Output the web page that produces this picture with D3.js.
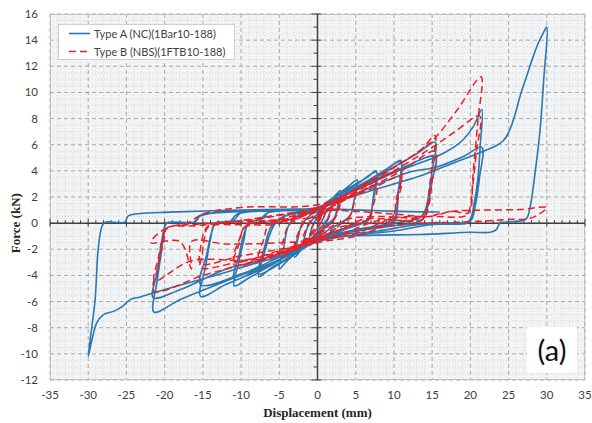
<!DOCTYPE html>
<html>
<head>
<meta charset="utf-8">
<script src="https://cdn.jsdelivr.net/npm/d3@7"></script>
<style>
  body { margin: 0; background: #fff; }
  svg { display: block; }
</style>
</head>
<body>
<svg id="chart" width="592" height="423"></svg>
<script>
// ---- data (displacement mm, force kN) ----
var xTicks = [-35, -30, -25, -20, -15, -10, -5, 0, 5, 10, 15, 20, 25, 30, 35];
var yTicks = [-12, -10, -8, -6, -4, -2, 0, 2, 4, 6, 8, 10, 12, 14, 16];
var seriesNames = ["Type A (NC)(1Bar10-188)", "Type B (NBS)(1FTB10-188)"];

// Type A (blue, solid) - hysteresis path
var typeA = [
  [0,0],[0.4,0.5],[1,0.9],[0.8,0.4],[0.4,0.0],[0,-0.4],[-0.5,-0.7],[-1,-1.0],[-0.8,-0.5],[-0.5,0.0],[0,0.4],
  [0.6,0.9],[1.3,1.4],[2,1.9],[1.7,1.0],[1.3,0.3],[0.5,-0.3],[0,-0.7],[-1,-1.3],[-2,-2.0],[-1.7,-1.1],[-1.3,-0.3],[-0.5,0.4],[0,0.7],
  [1,1.3],[2,1.9],[3,2.5],[2.6,1.2],[2.2,0.4],[1,-0.2],[0,-0.9],[-1.5,-1.6],[-3,-2.6],[-2.6,-1.3],[-2.1,-0.2],[-1,0.6],[0,0.9],
  [1,1.3],[2,1.8],[3,2.3],[2.6,1.0],[2.1,0.3],[1,-0.3],[0,-1.0],[-1.5,-1.6],[-3,-2.4],[-2.6,-1.1],[-2,-0.1],[-1,0.6],[0,0.9],
  [1,1.4],[2.5,2.1],[4,2.8],[5.2,3.3],[4.8,1.8],[4.3,0.6],[3,0.0],[1.5,-0.5],[0,-1.1],[-2,-1.9],[-4,-2.9],[-5,-3.5],[-4.4,-1.8],[-3.8,-0.2],[-2.5,0.6],[0,1.0],
  [1.2,1.6],[3,2.3],[5,3.0],[6.5,3.5],[7.7,4.0],[7.3,2.0],[7.0,0.8],[6.5,0.2],[4,-0.3],[2,-0.7],[0,-1.2],[-2,-1.9],[-4,-2.7],[-6,-3.4],[-7.7,-4.1],[-7.0,-2.4],[-6.2,-0.8],[-5.5,0.0],[-4,0.6],[-2,0.9],[0,1.1],
  [1.2,1.5],[3,2.2],[5,2.9],[7.7,3.9],[7.2,1.5],[6.8,0.3],[4,-0.4],[0,-1.3],[-3,-2.4],[-5.5,-3.3],[-7.7,-3.9],[-7.0,-2.0],[-6.0,-0.2],[-4.5,0.5],[0,1.0],
  [1.5,1.5],[4,2.4],[7,3.4],[9.5,4.3],[10.9,4.8],[10.6,2.5],[10.4,0.8],[10.1,0.15],[8,-0.2],[5,-0.5],[2,-0.9],[0,-1.3],[-3,-2.2],[-6,-3.2],[-9,-4.2],[-10.9,-4.8],[-10.3,-3.0],[-9.6,-1.2],[-9.05,0.0],[-7.5,0.3],[-6.5,0.8],[-3,1.0],[0,1.2],
  [2,1.6],[5,2.6],[8,3.7],[10.9,4.7],[10.5,2.2],[10.2,0.5],[9.5,0.0],[6,-0.4],[2,-1.0],[0,-1.4],[-4,-2.5],[-8,-3.6],[-10.9,-4.3],[-10.2,-2.3],[-9.5,-0.6],[-9.0,0.0],[-7,0.4],[-6.5,0.8],[0,1.1],
  [2,1.7],[6,3.0],[10,4.3],[13,5.3],[15.4,6.2],[15.0,4.0],[14.5,2.0],[14.1,1.0],[13.4,0.4],[11,0.1],[8,-0.3],[4,-0.7],[0,-1.3],[-4,-2.5],[-8,-3.7],[-12,-4.7],[-15.3,-5.6],[-14.6,-3.2],[-14,-1.2],[-13.4,0.0],[-11.5,0.1],[-10.5,0.7],[-6,0.95],[0,1.2],
  [3,2.0],[7,3.2],[11,4.2],[15.4,5.1],[14.9,3.0],[14.3,1.0],[13.6,0.2],[10,-0.2],[5,-0.6],[0,-1.2],[-5,-2.6],[-10,-3.9],[-15.3,-4.7],[-14.5,-2.4],[-13.8,-0.6],[-13.3,0.0],[-11,0.2],[-10,0.8],[0,1.1],
  [3,2.0],[6,2.8],[9,3.6],[11,4.1],[13.4,4.6],[15.6,5.1],[17.8,5.8],[19.1,6.4],[20.4,7.4],[21.5,8.7],[21.3,6.0],[21.0,3.5],[20.5,1.5],[20.0,0.3],[19.5,0.05],[15,0.0],[12,-0.2],[8,-0.6],[3,-0.9],[0,-1.4],[-5,-2.8],[-11.4,-4.3],[-18,-5.86],[-21.4,-6.8],[-21.0,-4.5],[-20.5,-2.5],[-20.1,-0.8],[-19.8,0.0],[-16.2,0.07],[-15.5,0.5],[-14,0.75],[-8,0.95],[0,1.2],
  [4,2.0],[8,3.0],[12,3.9],[15.6,4.3],[19.1,5.1],[21.5,5.8],[21.2,3.5],[20.7,1.5],[20.2,0.3],[19.6,0.0],[15,-0.1],[10,-0.6],[5,-0.9],[0,-1.4],[-5,-2.6],[-11.4,-3.4],[-18,-5.1],[-21.5,-5.7],[-21.0,-3.8],[-20.5,-1.8],[-20.0,-0.3],[-19.7,0.0],[-16,0.1],[-15.3,0.6],[-13,0.8],[-5,1.0],[0,1.1],
  [3,1.7],[6,2.3],[10,3.0],[13.4,3.6],[15.6,4.1],[17.8,4.6],[20,5.1],[22.1,5.6],[23.3,5.9],[24.3,6.3],[24.9,6.8],[25.4,7.5],[25.9,8.4],[26.5,9.7],[27.4,11.3],[28.2,12.7],[28.9,13.8],[29.5,14.5],[30,15.0],
  [29.6,11],[29.1,7],[28.5,4],[27.9,1.5],[27.4,0.4],[26.9,0.2],[25,0.1],[23.9,0.0],[23.4,-0.5],[22.6,-0.7],[20,-0.7],[13.4,-0.87],[6,-0.95],[0,-1.2],
  [-3,-2.0],[-6,-2.7],[-10,-3.4],[-14,-4.1],[-18,-4.75],[-21.5,-5.35],[-23.2,-5.65],[-24.5,-5.85],[-25.6,-6.4],[-26.7,-6.75],[-28,-7.0],[-28.9,-7.65],[-29.5,-8.9],[-30,-10.2],
  [-29.1,-5.86],[-28.7,-2.0],[-28.2,-0.24],[-27.8,0.07],[-25.2,0.07],[-24.8,0.53],[-23.2,0.74],[-19.3,0.84],[-11.4,0.99],[-5,1.05],[0,1.1],[3,1.05],[8,0.95],[12,0.88],[16,0.85]
];

// Type B (red, dashed) - hysteresis path
var typeB = [
  [0,0],[0.5,0.4],[1,0.8],[0.7,0.3],[0.3,-0.1],[-0.3,-0.4],[-1,-0.8],[-0.7,-0.3],[-0.3,0.1],[0,0.3],
  [1,0.8],[2,1.4],[1.6,0.6],[1.1,0.0],[0,-0.5],[-1,-0.9],[-2,-1.4],[-1.6,-0.6],[-1.0,0.1],[0,0.5],
  [1.5,1.0],[3,2.0],[2.5,0.8],[2,0.1],[0,-0.7],[-1.5,-1.3],[-3,-2.1],[-2.5,-0.9],[-1.8,0.1],[0,0.6],
  [1.5,1.0],[3,1.8],[2.5,0.6],[1.8,0.0],[0,-0.8],[-3,-1.9],[-2.4,-0.6],[-1.5,0.2],[0,0.7],
  [2,1.3],[4,2.0],[5,2.4],[4.5,1.0],[4,0.3],[2,-0.2],[0,-0.9],[-2.5,-1.8],[-5,-2.6],[-4.4,-1.2],[-3.8,-0.2],[-2,0.5],[0,0.9],
  [2,1.3],[5,2.2],[7.7,2.9],[7.2,1.2],[6.6,0.3],[3,-0.3],[0,-1.0],[-4,-2.1],[-7.7,-2.8],[-7.0,-1.2],[-6.4,-0.2],[-3,0.3],[0,1.0],
  [2,1.5],[6,2.7],[10.9,3.9],[10.3,1.8],[9.8,0.5],[6,0.3],[3,-0.5],[0,-1.1],[-5,-2.3],[-10.9,-3.2],[-10.2,-1.5],[-9.5,-0.3],[-6,-0.1],[-2,0.6],[0,1.2],
  [3,1.7],[7,2.6],[10.9,3.5],[10.3,1.4],[9.6,0.2],[5,-0.1],[0,-1.2],[-5,-2.1],[-10.9,-2.9],[-10.2,-1.2],[-9.4,-0.2],[-5,0.2],[0,1.0],
  [3,2.0],[7,3.2],[11,4.6],[13.5,5.6],[15.4,6.7],[15.0,4.5],[14.6,2.5],[14.2,1.0],[13.5,0.5],[8,0.5],[4,0.3],[2,-0.6],[0,-1.2],[-5,-2.2],[-10,-2.9],[-15.3,-3.4],[-15.1,-2.5],[-14.8,-1.2],[-14.3,-0.3],[-10,-0.1],[-5,0.3],[0,1.1],
  [3,1.8],[7,2.8],[11,4.0],[15.4,5.5],[15.0,3.2],[14.5,1.2],[13.8,0.3],[8,0.2],[3,-0.9],[0,-1.4],[-5,-2.0],[-10,-2.5],[-15.3,-3.1],[-15.3,-1.9],[-14.9,-0.8],[-14.3,-0.2],[-8,0.3],[0,1.2],
  [3,2.0],[8,3.6],[12,5.0],[15,6.3],[18.2,8.6],[21.4,11.2],[21.0,7.9],[20.4,4.1],[20.0,1.3],[19.5,0.6],[15,0.5],[10,0.4],[5,-0.8],[0,-1.3],[-5,-2.3],[-10,-3.2],[-15,-4.0],[-21.4,-5.2],[-20.8,-3.2],[-20.1,-1.3],[-19.7,-0.4],[-17,0.0],[-15,0.7],[-10,1.2],[0,1.4],
  [5,2.5],[10,4.0],[15,5.8],[18,7.0],[21.2,8.2],[20.8,5.5],[20.3,2.8],[19.8,0.8],[17.7,0.9],[14.7,0.53],[10,0.0],[5,-1.0],[0,-1.5],[-8,-2.8],[-16.6,-2.9],[-21.3,-4.4],[-20.8,-2.6],[-20.2,-1.0],[-19.7,-0.36],[-16,-0.2],[-10,0.2],[0,1.0],
  [5,0.9],[10,0.7],[14.7,0.53],[17.7,0.91],[22,1.0],[26.5,1.04],[30,1.2],[28,0.4],[24.7,0.28],[20,0.1],[14,0.0],[8,-0.3],[3,-0.9],[0,-1.3],
  [-5,-1.5],[-12,-1.6],[-16.5,-1.4],[-16.5,-3.5],[-18,-1.4],[-21.8,-1.5],[-19.7,-0.36],[-16,-0.1],[-10,0.1],[0,0.4]
];

// ---- layout ----
var svg = d3.select("#chart");
var plotL = 50, plotR = 585, plotT = 14, plotB = 380;

var x = d3.scaleLinear().domain([-35, 35]).range([plotL, plotR]);
var y = d3.scaleLinear().domain([-12, 16]).range([plotB, plotT]);

svg.append("rect")
    .attr("x", plotL).attr("y", plotT)
    .attr("width", plotR - plotL).attr("height", plotB - plotT)
    .attr("fill", "#f2f3f5");

// minor grid
var g = svg.append("g");
g.selectAll(".vminor").data(d3.range(-35, 36, 1).filter(function (v) { return v % 5 != 0; }))
    .enter().append("line")
    .attr("x1", function (d) { return x(d); }).attr("x2", function (d) { return x(d); })
    .attr("y1", plotT).attr("y2", plotB)
    .attr("stroke", "#d6d7da").attr("stroke-width", 1).attr("stroke-dasharray", "1,2");
g.selectAll(".hminor").data(d3.range(-12, 16.01, 0.5).filter(function (v) { return v % 2 != 0; }))
    .enter().append("line")
    .attr("y1", function (d) { return y(d); }).attr("y2", function (d) { return y(d); })
    .attr("x1", plotL).attr("x2", plotR)
    .attr("stroke", "#d6d7da").attr("stroke-width", 1).attr("stroke-dasharray", "1,2");

// major grid
g.selectAll(".vmajor").data(xTicks)
    .enter().append("line")
    .attr("x1", function (d) { return x(d); }).attr("x2", function (d) { return x(d); })
    .attr("y1", plotT).attr("y2", plotB)
    .attr("stroke", "#a9a9a9").attr("stroke-width", 1).attr("stroke-dasharray", "4,3");
g.selectAll(".hmajor").data(yTicks)
    .enter().append("line")
    .attr("y1", function (d) { return y(d); }).attr("y2", function (d) { return y(d); })
    .attr("x1", plotL).attr("x2", plotR)
    .attr("stroke", "#a9a9a9").attr("stroke-width", 1).attr("stroke-dasharray", "4,3");

svg.append("rect")
    .attr("x", plotL + 0.5).attr("y", plotT + 0.5)
    .attr("width", plotR - plotL - 1).attr("height", plotB - plotT - 1)
    .attr("fill", "none").attr("stroke", "#bfbfbf");

// zero axes with ticks
var ax = svg.append("g").attr("stroke", "#404040");
ax.append("line").attr("x1", plotL).attr("x2", plotR)
    .attr("y1", y(0)).attr("y2", y(0)).attr("stroke-width", 1.5);
ax.append("line").attr("x1", x(0)).attr("x2", x(0))
    .attr("y1", plotT).attr("y2", plotB).attr("stroke-width", 1.5);
ax.selectAll(".xt").data(d3.range(-35, 36, 1))
    .enter().append("line")
    .attr("x1", function (d) { return x(d); }).attr("x2", function (d) { return x(d); })
    .attr("y1", function (d) { return y(0) - (d % 5 == 0 ? 4 : 3); })
    .attr("y2", function (d) { return y(0) + (d % 5 == 0 ? 3 : 0); });
ax.selectAll(".yt").data(d3.range(-12, 17, 1))
    .enter().append("line")
    .attr("y1", function (d) { return y(d); }).attr("y2", function (d) { return y(d); })
    .attr("x1", function (d) { return x(0) - (d % 2 == 0 ? 6 : 4); })
    .attr("x2", function (d) { return x(0) + (d % 2 == 0 ? 4 : 0); });

// tick labels
svg.append("g").selectAll("text").data(xTicks)
    .enter().append("text")
    .attr("x", function (d) { return x(d); }).attr("y", 399)
    .attr("text-anchor", "middle")
    .style("font", "11.5px Lato, 'Open Sans', sans-serif").style("fill", "#404040")
    .text(function (d) { return d; });
svg.append("g").selectAll("text").data(yTicks)
    .enter().append("text")
    .attr("x", 38).attr("y", function (d) { return y(d) + 4; })
    .attr("text-anchor", "end")
    .style("font", "11.5px Lato, 'Open Sans', sans-serif").style("fill", "#404040")
    .text(function (d) { return d; });

// axis titles
svg.append("text")
    .attr("x", x(0)).attr("y", 417)
    .attr("text-anchor", "middle")
    .style("font", "bold 13px 'Liberation Serif', 'Times New Roman', serif").style("fill", "#262626")
    .text("Displacement (mm)");
svg.append("text")
    .attr("transform", "translate(20," + y(0) + ") rotate(-90)")
    .attr("text-anchor", "middle")
    .style("font", "bold 13px 'Liberation Serif', 'Times New Roman', serif").style("fill", "#262626")
    .text("Force (kN)");

// data lines
var line = d3.line()
    .x(function (d) { return x(d[0]); })
    .y(function (d) { return y(d[1]); })
    .curve(d3.curveCatmullRom.alpha(0.5));

var plot = svg.append("g");
plot.append("path").datum(typeA)
    .attr("d", line).attr("fill", "none")
    .attr("stroke", "#2a78b0").attr("stroke-width", 1.6)
    .attr("stroke-linejoin", "round");
plot.append("path").datum(typeB)
    .attr("d", line).attr("fill", "none")
    .attr("stroke", "#ee1c25").attr("stroke-width", 1.5)
    .attr("stroke-dasharray", "7,4")
    .attr("stroke-linejoin", "round");

// legend
var lg = svg.append("g");
lg.append("rect").attr("x", 58.5).attr("y", 24.5).attr("width", 176).attr("height", 35)
    .attr("fill", "#fff").attr("stroke", "#d0d0d0");
var legendItems = [
    { name: seriesNames[0], color: "#2a78b0", dash: null },
    { name: seriesNames[1], color: "#ee1c25", dash: "7,4" }
];
legendItems.forEach(function (it, i) {
    var ly = 33.5 + i * 18;
    lg.append("line").attr("x1", 69).attr("x2", 90).attr("y1", ly).attr("y2", ly)
        .attr("stroke", it.color).attr("stroke-width", 1.6)
        .attr("stroke-dasharray", it.dash);
    lg.append("text").attr("x", 94).attr("y", ly + 4)
        .style("font", "11px Lato, 'Open Sans', sans-serif").style("fill", "#404040")
        .text(it.name);
});

// panel label
svg.append("rect").attr("x", 527).attr("y", 327).attr("width", 50).attr("height", 46)
    .attr("fill", "#fff");
svg.append("text").attr("x", 552).attr("y", 361)
    .attr("text-anchor", "middle")
    .style("font", "29px Lato, 'Open Sans', sans-serif").style("fill", "#111")
    .text("(a)");
</script>
</body>
</html>
